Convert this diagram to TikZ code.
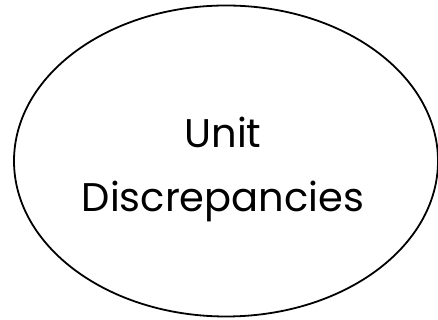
\documentclass[tikz,border=0pt]{standalone}
\usepackage{fontspec}
\setmainfont{Poppins}
\usetikzlibrary{shapes.geometric}
\begin{document}
\begin{tikzpicture}[x=1pt,y=1pt,
  lbl/.style={anchor=base,inner sep=0pt,font=\fontsize{40}{48}\selectfont}]
\useasboundingbox (0,0) rectangle (438,320);
\node[draw,ellipse,line width=1.8pt,minimum width=424pt,minimum height=311pt,inner sep=0pt] (e) at (226,159) {};
\node[lbl] (u) at (223,172) {Unit};
\node[lbl] (d) at (223,108) {Discrepancies};
\end{tikzpicture}
\end{document}
